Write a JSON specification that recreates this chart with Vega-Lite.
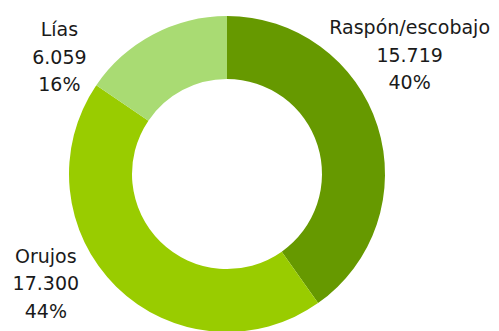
{
  "$schema": "https://vega.github.io/schema/vega-lite/v6.json",
  "width": 454,
  "height": 314,
  "autosize": {"type": "none"},
  "padding": {"left": 0, "top": 17, "right": 45, "bottom": 0},
  "background": "white",
  "config": {
    "view": {"stroke": null},
    "locale": {"number": {"decimal": ",", "thousands": ".", "grouping": [3], "currency": ["", " €"]}}
  },
  "data": {
    "values": [
      {"residuo": "Raspón/escobajo", "toneladas": 15719, "orden": 1},
      {"residuo": "Orujos", "toneladas": 17300, "orden": 2},
      {"residuo": "Lías", "toneladas": 6059, "orden": 3}
    ]
  },
  "transform": [
    {"joinaggregate": [{"op": "sum", "field": "toneladas", "as": "total"}]},
    {"calculate": "[datum.residuo, format(datum.toneladas, ',.0f'), format(datum.toneladas / datum.total, '.0%')]", "as": "etiqueta"}
  ],
  "encoding": {
    "theta": {"field": "toneladas", "type": "quantitative", "stack": true},
    "order": {"field": "orden", "type": "quantitative"}
  },
  "layer": [
    {
      "mark": {"type": "arc", "innerRadius": 95, "outerRadius": 158},
      "encoding": {
        "color": {
          "field": "residuo",
          "type": "nominal",
          "scale": {"domain": ["Raspón/escobajo", "Orujos", "Lías"], "range": ["#669900", "#99CC00", "#A9DB73"]},
          "legend": null
        }
      }
    },
    {
      "mark": {"type": "text", "radius": 200, "dx": -8, "dy": -79.5, "align": "center", "baseline": "alphabetic", "font": "DejaVu Sans", "fontSize": 19, "lineHeight": 27.5, "color": "#1a1a1a"},
      "encoding": {"text": {"condition": {"test": "datum.residuo === 'Raspón/escobajo'", "field": "etiqueta"}, "value": ""}}
    },
    {
      "mark": {"type": "text", "radius": 200, "dx": -41, "dy": -53.7, "align": "center", "baseline": "alphabetic", "font": "DejaVu Sans", "fontSize": 19, "lineHeight": 27.5, "color": "#1a1a1a"},
      "encoding": {"text": {"condition": {"test": "datum.residuo === 'Orujos'", "field": "etiqueta"}, "value": ""}}
    },
    {
      "mark": {"type": "text", "radius": 200, "dx": -74, "dy": 38.8, "align": "center", "baseline": "alphabetic", "font": "DejaVu Sans", "fontSize": 19, "lineHeight": 27.5, "color": "#1a1a1a"},
      "encoding": {"text": {"condition": {"test": "datum.residuo === 'Lías'", "field": "etiqueta"}, "value": ""}}
    }
  ]
}
